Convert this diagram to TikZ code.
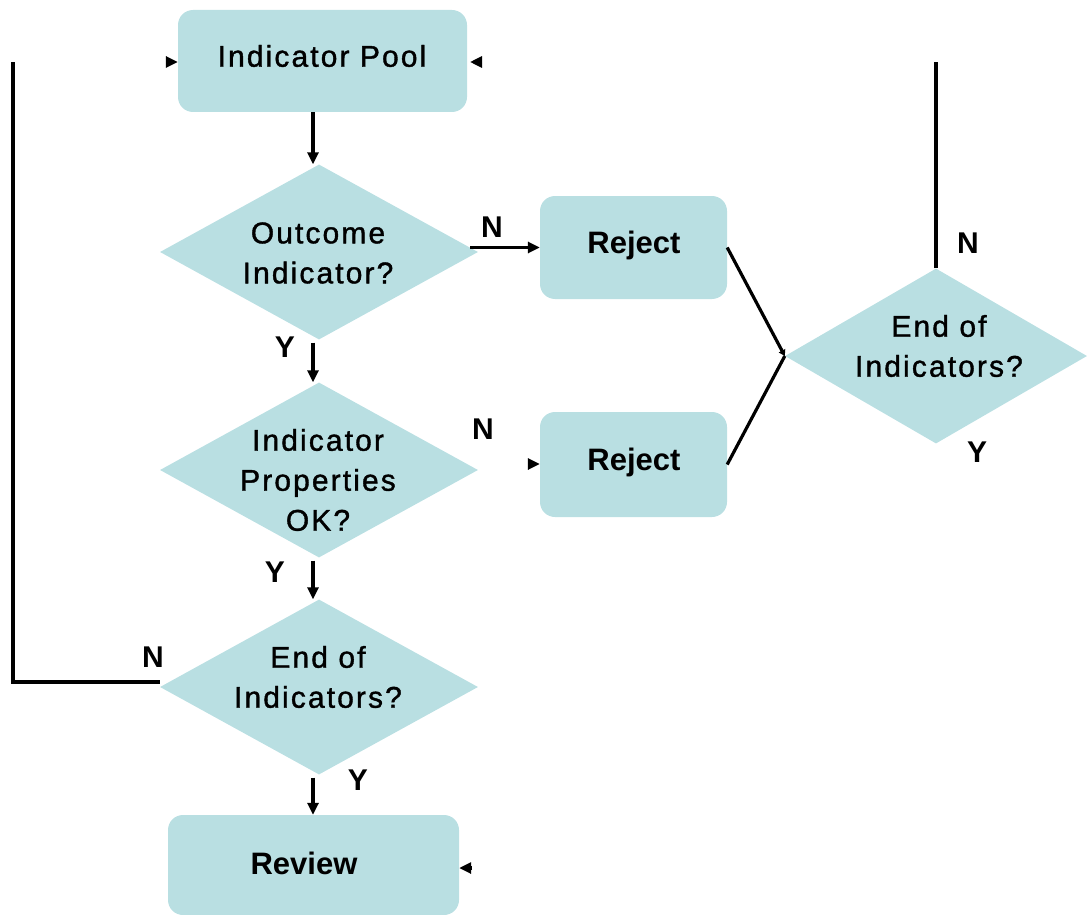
\documentclass[tikz,border=0pt]{standalone}
\usepackage{fontspec}
\setmainfont{Liberation Sans}
\newfontfamily\spaced[LetterSpace=7,FakeBold=1.2]{Liberation Sans}
\usetikzlibrary{shapes.geometric,arrows.meta,calc}
\definecolor{boxfill}{HTML}{B9DFE2}
\begin{document}
\begin{tikzpicture}[x=1pt,y=-1pt,
  box/.style={draw=none,fill=boxfill,rounded corners=15pt,inner sep=0pt},
  dia/.style={diamond,draw=none,fill=boxfill,inner sep=0pt},
  btext/.style={font=\fontsize{31}{36}\selectfont\bfseries,inner sep=0pt,text height=22pt,text depth=0pt},
  rtext/.style={font=\spaced\fontsize{30}{40}\selectfont,inner sep=0pt,align=center},
  yn/.style={font=\fontsize{30}{34}\selectfont\bfseries,inner sep=0pt,text height=21.5pt,text depth=0pt},
  conn/.style={line width=3.2pt,draw=black},
  arr/.style={conn,-{Triangle[length=12pt,width=11pt]}},
]
\useasboundingbox (0,0) rectangle (1090,915);

% process boxes
\node[box,minimum width=289pt,minimum height=102pt] (pool) at (322.5,61) {};
\node[box,minimum width=187pt,minimum height=103pt] (r1) at (633.5,247.5) {};
\node[box,minimum width=187pt,minimum height=105pt] (r2) at (633.5,464.5) {};
\node[box,minimum width=291pt,minimum height=100pt] (review) at (313.5,865) {};

% decisions
\node[dia,minimum width=318pt,minimum height=175pt] (d1) at (319,252) {};
\node[dia,minimum width=318pt,minimum height=175pt] (d2) at (319,470) {};
\node[dia,minimum width=318pt,minimum height=175pt] (d3) at (319,687) {};
\node[dia,minimum width=302pt,minimum height=175pt] (dR) at (936,356) {};

% texts
\node[rtext] (poolt) at (322,56) {Indicator Pool};
\node[btext] (r1t) at (634,242.5) {Reject};
\node[btext] (r2t) at (634,459) {Reject};
\node[btext] (reviewt) at (304,863) {Review};
\node[rtext] (t1) at (318,253) {Outcome\\Indicator?};
\node[rtext] (t2) at (318,480) {Indicator\\Properties\\OK?};
\node[rtext] (t3) at (318,677) {End of\\Indicators?};
\node[rtext] (tR) at (939,346) {End of\\Indicators?};

% branch labels
\node[yn] (n1) at (492,227) {N};
\node[yn] (n2) at (483,429) {N};
\node[yn] (y1) at (285,347) {Y};
\node[yn] (y2) at (275,572) {Y};
\node[yn] (nl) at (153,657) {N};
\node[yn] (y3) at (358,780) {Y};
\node[yn] (nr) at (968,243) {N};
\node[yn] (yr) at (977,452) {Y};

% main flow
\draw[arr] ($(d1.north |- pool.south)+(-6,0)$) -- ($(d1.north)+(-6,0)$);
\draw[arr] ($(d1.south)+(-6,3)$) -- ($(d2.north)+(-6,0)$);
\draw[arr] ($(d2.south)+(-6,3)$) -- ($(d3.north)+(-6,0)$);
\draw[arr] ($(d3.south)+(-6,3)$) -- ($(d3.south |- review.north)+(-6,0)$);
\draw[arr] ($(d1.east |- r1.west)+(-8,0)$) -- (r1.west);

% rejects join the right-hand decision
\draw[conn,-{Triangle[length=6pt,width=7pt]}] (r1.east) -- (dR.west);
\draw[conn] (r2.east) -- (dR.west);

% loop lines
\coordinate (loopL) at (13,62);
\coordinate (loopR) at (934,62);
\draw[conn] ($(d3.west)+(0,-5)$) -- ($(d3.west -| loopL)+(0,-5)$) -- (loopL);
\draw[conn] (dR.north) -- (dR.north |- loopR);

% loose arrowheads
\coordinate (pl) at (166,62);
\coordinate (pr) at (482,62);
\coordinate (rv) at (472,868);
\coordinate (r2s) at (528,464);
\draw[arr] (pl) -- (pool.west |- pl);
\draw[arr] (pr) -- ++(-12,0);
\draw[arr] (rv) -- (review.east |- rv);
\draw[arr] (r2s) -- (r2.west |- r2s);
\end{tikzpicture}
\end{document}
